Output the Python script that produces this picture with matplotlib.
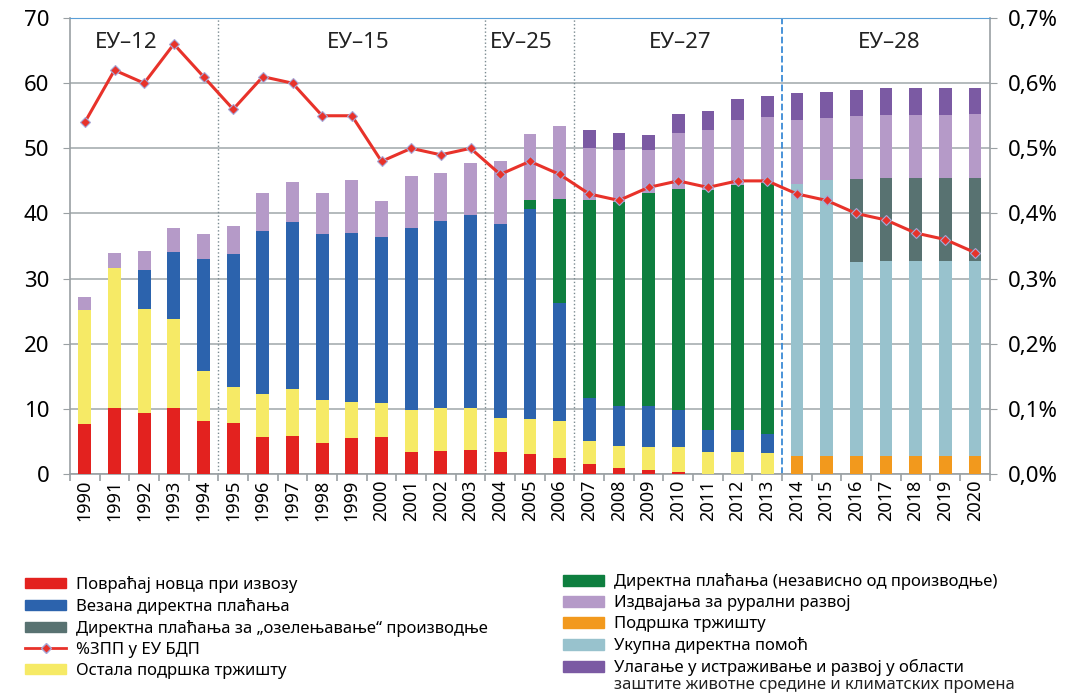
import matplotlib.pyplot as plt
import numpy as np
from matplotlib.patches import Patch
from matplotlib.lines import Line2D

plt.rcParams['font.family'] = ['Noto Sans', 'DejaVu Sans']

# podaci (milijarde evra), odozdo nagore
godine = [str(g) for g in range(1990, 2021)]

povracaj = [7.7, 10.1, 9.4, 10.1, 8.1, 7.8, 5.7, 5.9, 4.7, 5.6, 5.7, 3.4, 3.5, 3.7,
            3.4, 3.0, 2.4, 1.5, 0.9, 0.6, 0.35, 0, 0, 0, 0, 0, 0, 0, 0, 0, 0]
ostala = [17.5, 21.6, 16.0, 13.7, 7.7, 5.5, 6.6, 7.2, 6.7, 5.5, 5.2, 6.4, 6.6, 6.5,
          5.2, 5.4, 5.7, 3.5, 3.4, 3.5, 3.75, 3.4, 3.4, 3.3, 0, 0, 0, 0, 0, 0, 0]
vezana = [0, 0, 5.9, 10.3, 17.2, 20.4, 25.0, 25.6, 25.5, 25.9, 25.5, 27.9, 28.8, 29.6,
          29.8, 32.3, 18.1, 6.6, 6.1, 6.3, 5.8, 3.4, 3.3, 2.8, 0, 0, 0, 0, 0, 0, 0]
nezavisna = [0, 0, 0, 0, 0, 0, 0, 0, 0, 0, 0, 0, 0, 0,
             0, 1.4, 16.0, 30.4, 31.4, 32.8, 33.9, 36.8, 37.6, 38.6, 0, 0, 0, 0, 0, 0, 0]
trziste = [0] * 24 + [2.7, 2.7, 2.8, 2.8, 2.8, 2.8, 2.8]
ukupna = [0] * 24 + [41.8, 42.4, 29.8, 29.9, 29.9, 29.9, 29.9]
ozelenjavanje = [0] * 26 + [12.7, 12.8, 12.8, 12.8, 12.8]
ruralni = [1.9, 2.3, 3.0, 3.7, 3.8, 4.4, 5.8, 6.1, 6.2, 8.2, 5.5, 8.0, 7.3, 7.9,
           9.6, 10.1, 11.3, 8.1, 7.9, 6.6, 8.5, 9.2, 10.0, 10.1, 9.8, 9.6, 9.6, 9.6, 9.6, 9.6, 9.7]
istrazivanje = [0] * 17 + [2.7, 2.6, 2.2, 2.9, 3.0, 3.3, 3.2, 4.2, 4.0, 4.1, 4.1, 4.1, 4.1, 4.0]

zpp_bdp = [0.54, 0.62, 0.60, 0.66, 0.61, 0.56, 0.61, 0.60, 0.55, 0.55, 0.48, 0.50, 0.49, 0.50,
           0.46, 0.48, 0.46, 0.43, 0.42, 0.44, 0.45, 0.44, 0.45, 0.45, 0.43, 0.42, 0.40, 0.39,
           0.37, 0.36, 0.34]

periodi = ['ЕУ–12', 'ЕУ–15', 'ЕУ–25', 'ЕУ–27', 'ЕУ–28']

serije = [
    (povracaj, '#e3221f'),
    (ostala, '#f6ea66'),
    (vezana, '#2c63ad'),
    (nezavisna, '#0e7f3f'),
    (trziste, '#f2991d'),
    (ukupna, '#98c2cd'),
    (ozelenjavanje, '#587271'),
    (ruralni, '#b59ac8'),
    (istrazivanje, '#7b5aa3'),
]

fig = plt.figure(figsize=(10.77, 6.94), dpi=100)
ax = fig.add_axes([0.065, 0.317, 0.854, 0.657])

x = np.arange(len(godine))
dno = np.zeros(len(godine))
for vrednosti, boja in serije:
    v = np.array(vrednosti, dtype=float)
    ax.bar(x, v, 0.43, bottom=dno, color=boja, zorder=3)
    dno += v

ax.set_xlim(-0.5, len(godine) - 0.5)
ax.set_ylim(0, 70)
ax.set_yticks(range(0, 71, 10))
ax.grid(axis='y', color='#a7aeb0', linewidth=1.2, zorder=0)
ax.tick_params(axis='y', length=5, color='#9aa0a3', labelsize=16, pad=10)
ax.set_xticks(x)
ax.set_xticklabels(godine, rotation=90, fontsize=13)
ax.tick_params(axis='x', length=0, pad=4)
ax.set_xticks(np.arange(-0.5, len(godine)), minor=True)
ax.tick_params(axis='x', which='minor', length=5, color='#9aa0a3', width=1.2)
for s in ['left', 'right', 'bottom']:
    ax.spines[s].set_color('#9aa0a3')
    ax.spines[s].set_linewidth(1.2)
ax.spines['top'].set_color('#5a9fd8')

# granice perioda
for g in [4.5, 13.5, 16.5]:
    ax.axvline(g, color='#7a8a90', linestyle=':', linewidth=1, zorder=2)
ax.axvline(23.5, color='#3a8ad6', linestyle='--', linewidth=1.3, zorder=2)
sredine = [1.4, 9.2, 14.7, 20.05, 27.1]
for s, t in zip(sredine, periodi):
    ax.text(s, 66.3, t, ha='center', va='center', fontsize=16, color='#222222')

ax2 = ax.twinx()
ax2.plot(x, zpp_bdp, color='#e8322a', linewidth=2.2, marker='D', markersize=5,
         markerfacecolor='#e8322a', markeredgecolor='#a6a8d8', markeredgewidth=0.8, zorder=5)
ax2.set_ylim(0, 0.7)
ax2.set_yticks(np.arange(0, 0.71, 0.1))
ax2.set_yticklabels([f'{v:.1f}%'.replace('.', ',') for v in np.arange(0, 0.71, 0.1)])
ax2.tick_params(axis='y', length=5, labelsize=16, color='#9aa0a3', pad=8)
for s in ax2.spines.values():
    s.set_visible(False)

# legenda
levo = [
    Patch(color='#e3221f', label='Повраћај новца при извозу'),
    Patch(color='#2c63ad', label='Везана директна плаћања'),
    Patch(color='#587271', label='Директна плаћања за „озелењавање“ производње'),
    Line2D([], [], color='#e8322a', linewidth=2, marker='D', markersize=5,
           markeredgecolor='#a6a8d8', label='%ЗПП у ЕУ БДП'),
    Patch(color='#f6ea66', label='Остала подршка тржишту'),
]
desno = [
    Patch(color='#0e7f3f', label='Директна плаћања (независно од производње)'),
    Patch(color='#b59ac8', label='Издвајања за рурални развој'),
    Patch(color='#f2991d', label='Подршка тржишту'),
    Patch(color='#98c2cd', label='Укупна директна помоћ'),
    Patch(color='#7b5aa3', label='Улагање у истраживање и развој у области'),
]
kw = dict(frameon=False, fontsize=12, handlelength=2.45, handleheight=0.6,
          labelspacing=0.3, handletextpad=0.6, borderaxespad=0)
leg1 = fig.legend(handles=levo, loc='upper left', bbox_to_anchor=(0.0173, 0.180), **kw)
leg2 = fig.legend(handles=desno, loc='upper left', bbox_to_anchor=(0.5164, 0.1835), **kw)

# drugi red poslednje stavke
fig.canvas.draw()
bb = leg2.get_texts()[-1].get_window_extent()
W, H = fig.bbox.width, fig.bbox.height
fig.text(bb.x0 / W, (bb.y0 - 1) / H, 'заштите животне средине и климатских промена',
         fontsize=12, ha='left', va='top', color='#222222')

fig.savefig('out.png', dpi=100)
